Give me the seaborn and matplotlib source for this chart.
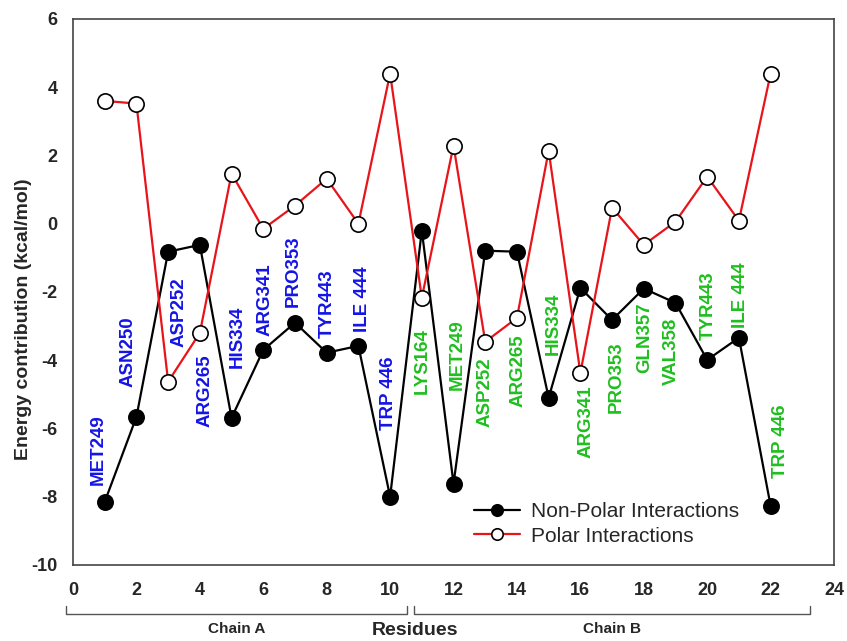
import matplotlib

matplotlib.use("Agg")

import matplotlib.pyplot as plt
import pandas as pd
import seaborn as sns

# Residue positions and energy contributions (kcal/mol)
positions = list(range(1, 23))
non_polar = [-8.15, -5.66, -0.82, -0.62, -5.69, -3.70, -2.90, -3.78, -3.58, -8.00, -0.20,
             -7.62, -0.79, -0.82, -5.10, -1.88, -2.82, -1.90, -2.32, -3.99, -3.34, -8.27]
polar = [3.60, 3.52, -4.63, -3.20, 1.47, -0.15, 0.53, 1.32, 0.00, 4.40, -2.17,
         2.29, -3.46, -2.76, 2.14, -4.37, 0.47, -0.62, 0.06, 1.38, 0.09, 4.40]

chain_a_labels = ["MET249", "ASN250", "ASP252", "ARG265", "HIS334", "ARG341",
                  "PRO353", "TYR443", "ILE 444", "TRP 446"]
chain_b_labels = ["LYS164", "MET249", "ASP252", "ARG265", "HIS334", "ARG341",
                  "PRO353", "GLN357", "VAL358", "TYR443", "ILE 444", "TRP 446"]
# where each rotated residue label starts (x, y in data units)
label_x = [0.79, 1.74, 3.34, 4.16, 5.17, 6.06, 6.94, 8.01, 9.12, 9.94,
           11.01, 12.11, 12.99, 14.04, 15.14, 16.18, 17.13, 18.04, 18.86, 20.03, 21.04, 22.3]
label_y = [-7.65, -4.78, -3.61, -5.95, -4.22, -3.28, -2.43, -3.34, -3.17, -6.04,
           -5.0, -4.87, -5.95, -5.37, -3.84, -6.86, -5.54, -4.37, -4.72, -3.4, -3.05, -7.45]

df = pd.DataFrame({"residue": positions, "non_polar": non_polar, "polar": polar})

sns.set_style("white")
plt.rcParams["font.family"] = ["Liberation Sans", "DejaVu Sans"]
plt.rcParams["axes.unicode_minus"] = False

fig = plt.figure(figsize=(8.47, 6.41), dpi=100)
ax = fig.add_axes([0.0862, 0.1186, 0.8985, 0.8518])

sns.lineplot(data=df, x="residue", y="non_polar", ax=ax, color="black", linewidth=1.6,
             marker="o", markersize=11, markerfacecolor="black", markeredgecolor="black",
             markeredgewidth=1.2, label="Non-Polar Interactions")
sns.lineplot(data=df, x="residue", y="polar", ax=ax, color="#e8141a", linewidth=1.6,
             marker="o", markersize=11, markerfacecolor="white", markeredgecolor="black",
             markeredgewidth=1.2, label="Polar Interactions")

labels = chain_a_labels + chain_b_labels
for i, name in enumerate(labels):
    color = "#1414e6" if i < len(chain_a_labels) else "#1fbf1f"
    ax.text(label_x[i], label_y[i], name, rotation=90, ha="center", va="bottom",
            color=color, fontsize=13.5, fontweight="bold")

ax.set_xlim(0, 24)
ax.set_ylim(-10, 6)
ax.set_xticks(range(0, 25, 2))
ax.set_yticks(range(-10, 7, 2))
ax.tick_params(axis="both", direction="out", length=6, width=1.2, color="#333333",
               labelsize=13)
ax.tick_params(axis="x", pad=6)
ax.tick_params(axis="y", pad=5)
for lab in ax.get_xticklabels() + ax.get_yticklabels():
    lab.set_fontweight("bold")
for spine in ax.spines.values():
    spine.set_color("#444444")
    spine.set_linewidth(1.2)

ax.set_ylabel("Energy contribution (kcal/mol)", fontsize=14, fontweight="bold")
ax.yaxis.set_label_coords(-0.054, 0.45)
ax.set_xlabel("Residues", fontsize=14, fontweight="bold")
ax.xaxis.set_label_coords(0.449, -0.104)

# chain brackets below the x axis
for x0, x1, name in [(-0.22, 10.54, "Chain A"), (10.76, 23.25, "Chain B")]:
    ax.plot([x0, x0, x1, x1], [-11.2, -11.44, -11.44, -11.2], color="#555555",
            linewidth=1.0, clip_on=False)
    ax.text((x0 + x1) / 2, -11.66, name, ha="center", va="top", fontsize=11,
            fontweight="bold")

ax.legend(loc="lower left", bbox_to_anchor=(0.505, 0.005), frameon=False, fontsize=15,
          handlelength=2.2, handletextpad=0.55, labelspacing=0.25, borderaxespad=0.4,
          markerscale=0.75)

fig.savefig("out.png", dpi=100)
